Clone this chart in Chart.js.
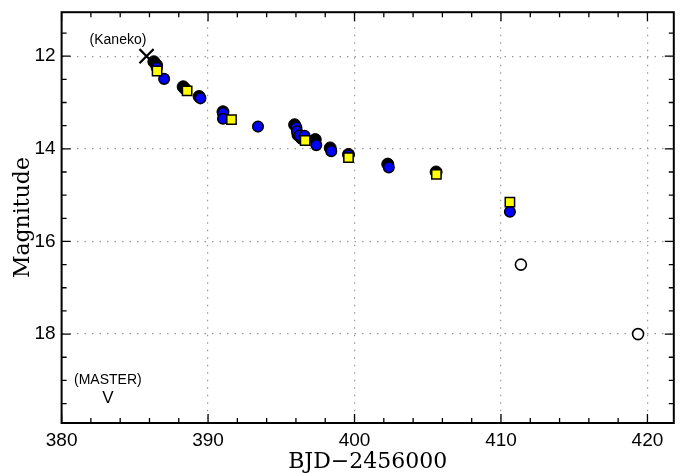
<!DOCTYPE html>
<html>
<head>
<meta charset="utf-8">
<script src="https://cdn.jsdelivr.net/npm/chart.js@4"></script>
<style>
  html, body { margin: 0; padding: 0; background: #fff; }
  #wrap { width: 686px; height: 473px; position: relative; }
</style>
</head>
<body>
<div id="wrap"><canvas id="lc"></canvas></div>
<script>
// tick labels
const xTickValues = [380, 390, 400, 410, 420];
const yTickValues = [12, 14, 16, 18];
const xMinorStep = 2;
const yMinorStep = 0.5;

// observations (BJD-2456000, magnitude)
const blackX = [386.30, 386.48, 388.30, 388.41, 389.39, 391.02, 395.91, 396.14, 396.37, 397.32, 398.34, 399.59, 402.27, 405.57];
const blackY = [12.12, 12.19, 12.66, 12.70, 12.87, 13.20, 13.48, 13.70, 13.77, 13.80, 13.98, 14.12, 14.33, 14.50];

const blueX = [386.50, 387.00, 389.48, 391.02, 391.02, 393.41, 396.03, 396.07, 396.25, 396.59, 397.39, 398.41, 399.59, 402.34, 410.61];
const blueY = [12.25, 12.49, 12.91, 13.23, 13.35, 13.52, 13.54, 13.62, 13.71, 13.72, 13.92, 14.05, 14.14, 14.40, 15.36];

const yellowX = [386.52, 388.57, 391.60, 396.63, 399.59, 405.59, 410.61];
const yellowY = [12.32, 12.75, 13.37, 13.82, 14.19, 14.55, 15.15];

const openX = [411.36, 419.36];
const openY = [16.50, 18.00];

const kanekoX = [385.8];
const kanekoY = [12.0];

// text notes
const notes = [
    { text: '(Kaneko)', x: 383.85, y: 11.65, size: 14 },
    { text: '(MASTER)', x: 383.16, y: 19.0, size: 14 },
    { text: 'V', x: 383.16, y: 19.38, size: 17 }
];

const pts = (xs, ys) => xs.map((x, i) => ({ x: x, y: ys[i] }));

const framePlugin = {
    id: 'frame',
    afterDatasetsDraw(chart) {
        const { ctx, chartArea: a, scales: { x, y } } = chart;
        ctx.save();
        ctx.strokeStyle = '#000';
        ctx.lineWidth = 1.3;
        // inward ticks, all four sides
        const tick = (len, vx, vy) => {
            if (vx !== null) {
                const px = x.getPixelForValue(vx);
                ctx.beginPath();
                ctx.moveTo(px, a.bottom); ctx.lineTo(px, a.bottom - len);
                ctx.moveTo(px, a.top); ctx.lineTo(px, a.top + len);
                ctx.stroke();
            } else {
                const py = y.getPixelForValue(vy);
                ctx.beginPath();
                ctx.moveTo(a.left, py); ctx.lineTo(a.left + len, py);
                ctx.moveTo(a.right, py); ctx.lineTo(a.right - len, py);
                ctx.stroke();
            }
        };
        for (let v = x.min; v <= x.max + 1e-9; v += xMinorStep) {
            const major = xTickValues.some(t => Math.abs(t - v) < 1e-6);
            tick(major ? 9 : 5, v, null);
        }
        for (let v = Math.ceil(y.min / yMinorStep) * yMinorStep; v <= y.max + 1e-9; v += yMinorStep) {
            const major = yTickValues.some(t => Math.abs(t - v) < 1e-6);
            tick(major ? 9 : 5, null, v);
        }
        ctx.lineWidth = 2;
        ctx.strokeRect(a.left, a.top, a.right - a.left, a.bottom - a.top);

        ctx.fillStyle = '#000';
        ctx.textAlign = 'center';
        ctx.textBaseline = 'middle';
        notes.forEach(n => {
            ctx.font = n.size + 'px "Liberation Sans", Arial, sans-serif';
            ctx.fillText(n.text, x.getPixelForValue(n.x), y.getPixelForValue(n.y));
        });
        ctx.restore();
    }
};

new Chart(document.getElementById('lc').getContext('2d'), {
    type: 'scatter',
    data: {
        datasets: [
            { label: 'Kaneko', data: pts(kanekoX, kanekoY), order: 1, pointStyle: 'crossRot', radius: 10, borderColor: '#000', borderWidth: 2.2 },
            { label: 'open', data: pts(openX, openY), order: 2, pointStyle: 'circle', radius: 5.5, backgroundColor: '#fff', borderColor: '#000', borderWidth: 1.6 },
            { label: 'yellow', data: pts(yellowX, yellowY), order: 3, pointStyle: 'rect', radius: 6.6, backgroundColor: '#ffff00', borderColor: '#000', borderWidth: 1.5 },
            { label: 'blue', data: pts(blueX, blueY), order: 4, pointStyle: 'circle', radius: 5.3, backgroundColor: '#0000ff', borderColor: '#000', borderWidth: 1.5 },
            { label: 'black', data: pts(blackX, blackY), order: 5, pointStyle: 'circle', radius: 6, backgroundColor: '#000', borderColor: '#000', borderWidth: 1 }
        ]
    },
    options: {
        responsive: true,
        maintainAspectRatio: false,
        animation: false,
        layout: { padding: { top: 10, right: 9, left: 0, bottom: 0 } },
        plugins: { legend: { display: false }, tooltip: { enabled: false } },
        elements: { point: { hoverRadius: 0 } },
        scales: {
            x: {
                type: 'linear', min: 380, max: 421.8,
                afterFit: s => { s.height = 50; s.paddingLeft = 0; s.paddingRight = 0; },
                afterBuildTicks: s => { s.ticks = xTickValues.map(v => ({ value: v })); },
                grid: { color: '#999', lineWidth: 1.2, drawTicks: false },
                border: { display: false, dash: [1.5, 6] },
                ticks: { padding: 6, color: '#000', font: { family: '"Liberation Sans", Arial, sans-serif', size: 19 }, maxRotation: 0 },
                title: { display: true, text: 'BJD\u22122456000', color: '#000', padding: { top: 0, bottom: 0 },
                         font: { family: '"DejaVu Serif", serif', size: 22, lineHeight: 1 } }
            },
            y: {
                type: 'linear', reverse: true, min: 11.05, max: 19.92,
                afterFit: s => { s.width = 61.6; s.paddingTop = 0; s.paddingBottom = 0; },
                afterBuildTicks: s => { s.ticks = yTickValues.map(v => ({ value: v })); },
                grid: { color: '#999', lineWidth: 1.2, drawTicks: false },
                border: { display: false, dash: [1.5, 6] },
                ticks: { padding: 6, color: '#000', font: { family: '"Liberation Sans", Arial, sans-serif', size: 19 } },
                title: { display: true, text: 'Magnitude', color: '#000', padding: { top: 12, bottom: 0 },
                         font: { family: '"DejaVu Serif", serif', size: 22, lineHeight: 1 } }
            }
        }
    },
    plugins: [framePlugin]
});
</script>
</body>
</html>
